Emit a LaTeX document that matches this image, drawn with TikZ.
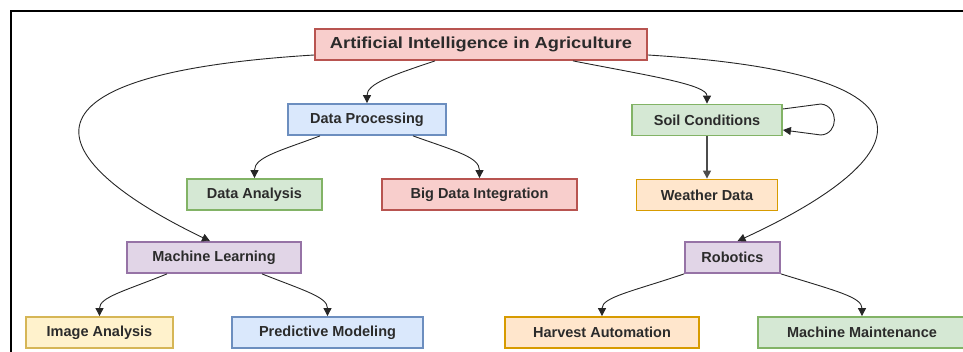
\documentclass[tikz,border=0pt]{standalone}
\usepackage{fontspec}
\setmainfont{Liberation Sans}
\usetikzlibrary{arrows.meta}

% draw.io palette
\definecolor{redF}{HTML}{F8CECC}\definecolor{redS}{HTML}{B85450}
\definecolor{blueF}{HTML}{DAE8FC}\definecolor{blueS}{HTML}{6C8EBF}
\definecolor{greenF}{HTML}{D5E8D4}\definecolor{greenS}{HTML}{82B366}
\definecolor{yellowF}{HTML}{FFF2CC}\definecolor{yellowS}{HTML}{D6B656}
\definecolor{orangeF}{HTML}{FFE6CC}\definecolor{orangeS}{HTML}{D79B00}
\definecolor{purpleF}{HTML}{E1D5E7}\definecolor{purpleS}{HTML}{9673A6}
\definecolor{txt}{HTML}{2B2B2B}

\tikzset{
  box/.style={draw, line width=1.8pt, inner sep=0pt, minimum height=31pt,
    text=txt, font=\fontsize{14.5}{17}\selectfont\bfseries},
  redbox/.style={box, fill=redF, draw=redS},
  bluebox/.style={box, fill=blueF, draw=blueS},
  greenbox/.style={box, fill=greenF, draw=greenS},
  yellowbox/.style={box, fill=yellowF, draw=yellowS},
  orangebox/.style={box, fill=orangeF, draw=orangeS},
  purplebox/.style={box, fill=purpleF, draw=purpleS},
  link/.style={draw=black!85, line width=0.9pt,
    -{Triangle[length=8pt,width=8pt]}},
}

\begin{document}
\begin{tikzpicture}[x=1pt, y=-1pt]
\useasboundingbox (0,0) rectangle (963,352);
\clip (0,0) rectangle (963,352);

% outer frame
\draw[line width=1.4pt] (11,370) -- (11,11) -- (980,11);

% nodes
\node[redbox, minimum width=332pt] (ai) at (481,44.5)
  {\scalebox{1.14}[1]{\fontsize{16}{19}\selectfont\bfseries Artificial Intelligence in Agriculture}};
\node[bluebox,   minimum width=158pt] (dp)   at (367,119.5) {Data Processing};
\node[greenbox,  minimum width=135pt] (da)   at (254.5,194.5) {Data Analysis};
\node[redbox,    minimum width=195pt] (bdi)  at (479.5,194.5) {Big Data Integration};
\node[greenbox,  minimum width=150pt] (soil) at (707,120) {Soil Conditions};
\node[orangebox, minimum width=141pt] (wd)   at (707,195) {Weather Data};
\node[purplebox, minimum width=174pt] (ml)   at (214,257.5) {Machine Learning};
\node[yellowbox, minimum width=147pt] (ia)   at (99.5,332.5) {Image Analysis};
\node[bluebox,   minimum width=191pt] (pm)   at (327.5,332.5) {Predictive Modeling};
\node[purplebox, minimum width=95pt]  (rob)  at (732.5,257.5) {Robotics};
\node[orangebox, minimum width=194pt] (ha)   at (602,332.5) {Harvest Automation};
\node[greenbox,  minimum width=208pt] (mm)   at (862,332.5) {Machine Maintenance};

% connectors
\draw[link] ([xshift=-46pt]ai.south) .. controls +(-45,15) and +(0,-19) .. (dp.north);
\draw[link] ([xshift=92pt]ai.south) .. controls +(77,15) and +(0,-19) .. (soil.north);
\draw[link] ([yshift=-10.5pt]ai.west) .. controls +(-325,20) and +(-160,-77) .. ([xshift=-4pt]ml.north);
\draw[link] ([yshift=-10.5pt]ai.east) .. controls +(323,20) and +(167,-77) .. ([xshift=5pt]rob.north);

\draw[link] ([xshift=-47pt]dp.south) .. controls +(-40,15) and +(0,-21) .. (da.north);
\draw[link] ([xshift=46pt]dp.south) .. controls +(42,15) and +(0,-21) .. (bdi.north);

\draw[link, draw=black!70, line width=1.3pt] (soil.south) -- (wd.north);
\draw[link] ([yshift=11pt]soil.east) -- +(38,-5)
  .. controls +(18,2) and +(18,-1) .. ([xshift=38pt,yshift=-15pt]soil.east)
  -- ([yshift=-10pt]soil.east);

\draw[link] ([xshift=-47pt]ml.south) .. controls +(-42,17) and +(0,-19) .. (ia.north);
\draw[link] ([xshift=48pt]ml.south) .. controls +(43,17) and +(0,-19) .. (pm.north);

\draw[link] (rob.south west) .. controls +(-50,17) and +(0,-19) .. (ha.north);
\draw[link] (rob.south east) .. controls +(55,17) and +(0,-19) .. (mm.north);
\end{tikzpicture}
\end{document}
